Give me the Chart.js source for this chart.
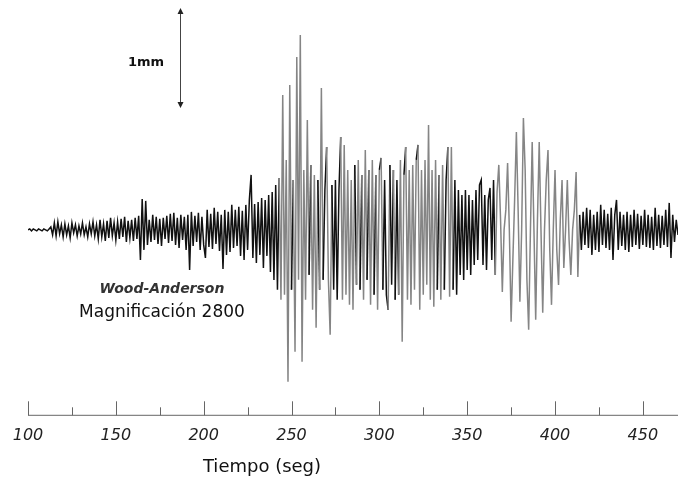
<!DOCTYPE html>
<html>
<head>
<meta charset="utf-8">
<script src="https://cdn.jsdelivr.net/npm/chart.js@4.4.1/dist/chart.umd.min.js"></script>
<style>
  html, body { margin: 0; padding: 0; background: #fff; }
</style>
</head>
<body>
<canvas id="sismo" width="678" height="483"></canvas>
<script>
// sampling grid of the trace (seconds)
var startTime = 100;
var sampleStep = 1;

// ground motion, micrometres on the drum (1000 = 1 mm), one sample per second
var amplitude = [
  0, 10, -10, 10, 0, -10, 10, 0, -10, 10,
  0, -10, 10, 30, -50, 70, -60, 80, -40, 50,
  -70, 60, -50, 40, -80, 70, -30, 50, -60, 40,
  -40, 70, -50, 30, -70, 60, -40, 80, -60, 50,
  -90, 100, -70, 60, -110, 90, -80, 120, -60, 70,
  -100, 80, -90, 110, -70, 130, -120, 90, -80, 100,
  -110, 120, -90, 140, -300, 310, -200, 290, -150, 100,
  -120, 150, -100, 130, -140, 110, -160, 120, -90, 140,
  -130, 160, -110, 170, -150, 120, -180, 150, -100, 130,
  -200, 150, -400, 180, -160, 140, -120, 170, -200, 130,
  -150, -280, 200, -170, 160, -190, 220, -140, 180, -210,
  150, -390, 200, -250, 180, -220, 250, -180, 200, -160,
  230, -260, 190, -300, 250, -200, 300, 550, -280, 260,
  -330, 280, -250, 320, -380, 300, -260, 350, -420, 380,
  -500, 450, -600, 520, -700, 1350, -650, 700, -1520, 1450,
  -600, 500, -1220, 1730, -500, 1950, -1320, 600, -700, 1100,
  -450, 650, -800, 550, -980, 500, -600, 1420, -500, 400,
  830, -500, -1050, 450, -600, 500, -700, 400, 930, -700,
  850, -650, 600, -750, 500, -800, 650, -550, 700, -600,
  550, -700, 800, -500, 600, -750, 700, -650, 550, -800,
  600, 720, -600, 500, -650, -800, 650, -550, 600, -700,
  500, -650, 700, -1120, 550, 830, -700, 600, -750, 650,
  -600, 700, 850, -800, 600, -650, 700, -550, 1050, -700,
  600, -770, 700, -600, 550, -700, 650, -600, 500, 830,
  -670, 830, -600, 500, -650, 400, -450, 350, -500, 400,
  -400, 350, -450, 300, -350, 400, -300, 450, 500, -350,
  350, -400, 300, 420, -300, 500, -450, 380, 650, 100,
  -620, 0, 200, 670, 0, -920, -300, 300, 980, 200,
  -720, 0, 1120, 600, -500, -1000, 0, 880, 0, -900,
  100, 880, 0, -830, 0, 500, 800, -200, -750, 0,
  600, -200, -550, 100, 500, -380, 0, 500, -100, -450,
  0, 200, 580, -470, 150, -200, 180, -150, 220, -180,
  200, -250, 150, -200, 180, -220, 250, -150, 200, -180,
  160, -200, 220, -300, 150, 300, -200, 180, -160, 150,
  -200, 180, -220, 150, -170, 200, -150, 160, -190, 140,
  -150, 200, -170, 150, -180, 130, -200, 220, -160, 150,
  -180, 140, -150, 200, -170, 270, -280, 150, -120, 100,
  -50
];

var majorTicks = [100, 150, 200, 250, 300, 350, 400, 450];
var minorTicks = [125, 175, 225, 275, 325, 375, 425];

var scaleBarTop = 2220;   // top of the 1 mm bar
var scaleBarSize = 1000;  // 1 mm

// ink: short strokes print black, long strokes and the surface-wave train grey
var longStroke = 1200;
var farReach = 1000;
var surfacePacket = [366, 414];

var points = amplitude.map(function (v, i) {
  return { x: startTime + i * sampleStep, y: v };
});

function strokeColor(c) {
  var y0 = c.p0.parsed.y, y1 = c.p1.parsed.y, t = c.p0.parsed.x;
  if (t >= surfacePacket[0] && t < surfacePacket[1]) return '#858585';
  if (Math.abs(y1 - y0) > longStroke) return '#858585';
  if (Math.max(Math.abs(y0), Math.abs(y1)) > farReach) return '#858585';
  return '#111';
}

var decorations = {
  id: 'decorations',
  afterDraw: function (chart) {
    var ctx = chart.ctx;
    var xs = chart.scales.x;
    var ys = chart.scales.y;
    var base = chart.chartArea.bottom + 0.5;

    ctx.save();
    // time axis
    ctx.strokeStyle = '#666';
    ctx.lineWidth = 1;
    ctx.beginPath();
    ctx.moveTo(xs.getPixelForValue(startTime), base);
    ctx.lineTo(chart.width, base);
    majorTicks.forEach(function (t) {
      var px = Math.round(xs.getPixelForValue(t)) + 0.5;
      ctx.moveTo(px, base);
      ctx.lineTo(px, base - 14);
    });
    minorTicks.forEach(function (t) {
      var px = Math.round(xs.getPixelForValue(t)) + 0.5;
      ctx.moveTo(px, base);
      ctx.lineTo(px, base - 8);
    });
    ctx.stroke();

    // 1 mm scale bar
    var bx = 180.5;
    var y1 = ys.getPixelForValue(scaleBarTop);
    var y2 = ys.getPixelForValue(scaleBarTop - scaleBarSize);
    ctx.strokeStyle = '#444';
    ctx.beginPath();
    ctx.moveTo(bx, y1 + 3);
    ctx.lineTo(bx, y2 - 3);
    ctx.stroke();
    ctx.fillStyle = '#222';
    ctx.beginPath();
    ctx.moveTo(bx, y1); ctx.lineTo(bx - 3, y1 + 6); ctx.lineTo(bx + 3, y1 + 6); ctx.closePath();
    ctx.moveTo(bx, y2); ctx.lineTo(bx - 3, y2 - 6); ctx.lineTo(bx + 3, y2 - 6); ctx.closePath();
    ctx.fill();

    ctx.textAlign = 'center';
    ctx.textBaseline = 'middle';
    ctx.fillStyle = '#111';
    ctx.font = 'bold 13px "DejaVu Sans"';
    ctx.fillText('1mm', 146, 63);

    ctx.font = 'italic bold 14px "DejaVu Sans"';
    ctx.fillStyle = '#333';
    ctx.fillText('Wood-Anderson', 162, 289);
    ctx.font = '17px "DejaVu Sans"';
    ctx.fillStyle = '#111';
    ctx.fillText('Magnificación 2800', 162, 313);

    ctx.font = '18px "DejaVu Sans"';
    ctx.fillText('Tiempo (seg)', 262, 467);
    ctx.restore();
  }
};

new Chart(document.getElementById('sismo'), {
  type: 'line',
  data: {
    datasets: [{
      data: points,
      borderColor: '#111',
      borderWidth: 1.5,
      pointRadius: 0,
      tension: 0,
      segment: { borderColor: strokeColor }
    }]
  },
  options: {
    responsive: false,
    animation: false,
    layout: { padding: { left: 28, right: 0, top: 0, bottom: 27 } },
    plugins: { legend: { display: false }, tooltip: { enabled: false } },
    scales: {
      x: {
        type: 'linear',
        min: 100,
        max: 470,
        grid: { display: false, drawTicks: false },
        border: { display: false },
        afterBuildTicks: function (scale) {
          scale.ticks = majorTicks.map(function (v) { return { value: v }; });
        },
        ticks: {
          padding: 11,
          maxRotation: 0,
          autoSkip: false,
          color: '#222',
          font: { family: 'DejaVu Sans', style: 'italic', size: 16 }
        }
      },
      y: {
        display: false,
        min: -1850,
        max: 2300
      }
    }
  },
  plugins: [decorations]
});
</script>
</body>
</html>
